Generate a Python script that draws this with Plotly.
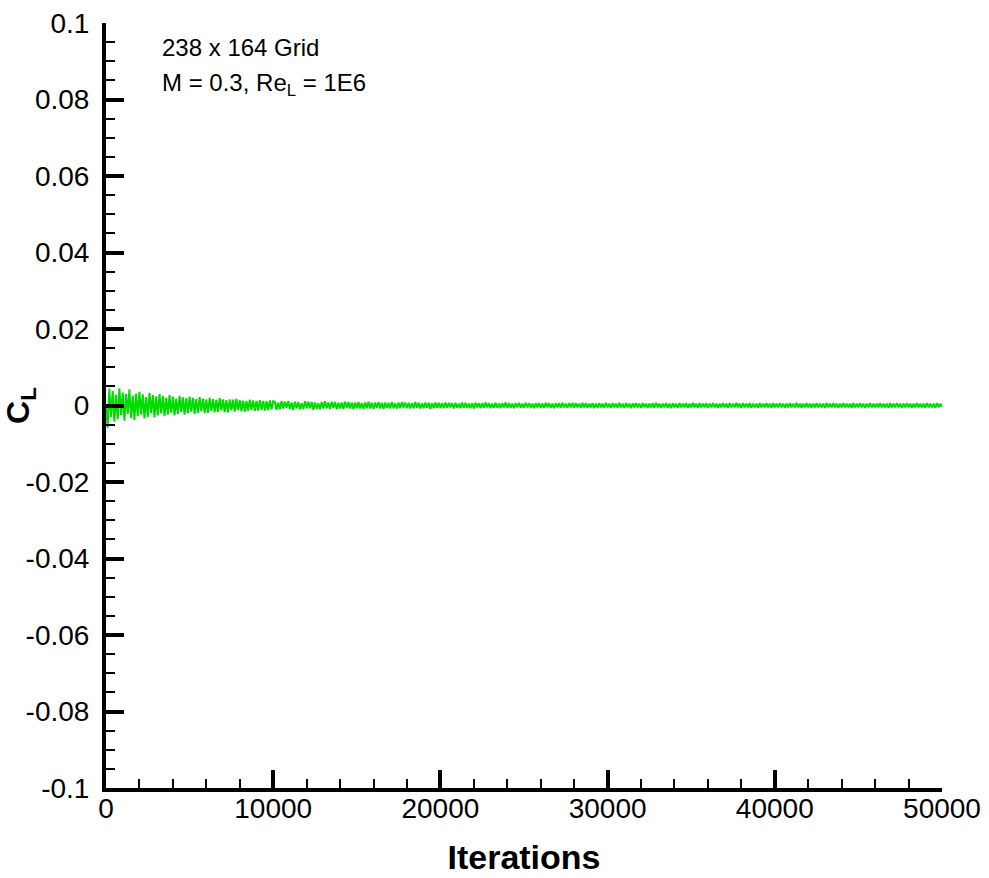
import plotly.graph_objects as go

# Lift coefficient convergence history, sampled every 100 iterations.
# Values are in units of 1e-4.
iterations = list(range(0, 50001, 100))
cl_e4 = [
    # 0 - 10000
    0, -58, 44, -30, 38, -42, 28, -36, 45, -25, 34, -40, 30, -22, 42, -33, 26, -38, 31, -28,
    36, -24, 29, -34, 22, -30, 33, -20, 27, -31, 24, -26, 30, -21, 25, -28, 20, -24, 27, -19,
    23, -26, 18, -22, 25, -17, 21, -24, 19, -20, 23, -16, 20, -22, 17, -19, 22, -15, 18, -20,
    16, -19, 20, -14, 17, -18, 15, -17, 19, -13, 16, -17, 14, -18, 16, -13, 15, -16, 17, -12,
    14, -15, 13, -16, 12, -14, 15, -11, 13, -14, 12, -13, 14, -11, 12, -13, 11, -12, 13, -10,
    11,
    # 10100 - 20000
    9, -11, 7, -10, 12, -8, 10, -6, 11, -9, 8, -12, 10, -7, 9, -10, 6, -9, 11, -8,
    10, -7, 9, -11, 8, -9, 6, -10, 9, -8, 11, -7, 8, -9, 10, -6, 9, -10, 7, -8,
    8, -9, 10, -6, 9, -8, 7, -10, 8, -7, 9, -8, 6, -9, 8, -7, 10, -8, 7, -9,
    8, -6, 9, -8, 7, -9, 8, -6, 7, -8, 9, -7, 6, -8, 8, -7, 9, -6, 8, -7,
    7, -8, 6, -7, 9, -6, 7, -8, 6, -7, 8, -6, 7, -9, 6, -7, 8, -6, 7, -7,
    # 20100 - 30000
    6, -7, 8, -6, 7, -5, 6, -8, 7, -6, 5, -7, 8, -6, 7, -6, 5, -7, 6, -8,
    7, -5, 6, -7, 6, -6, 8, -5, 6, -7, 5, -6, 7, -6, 5, -7, 6, -5, 8, -6,
    6, -6, 5, -7, 6, -5, 7, -6, 5, -6, 7, -5, 6, -6, 5, -7, 6, -5, 6, -6,
    5, -6, 7, -5, 6, -6, 5, -7, 6, -5, 6, -6, 7, -5, 5, -6, 6, -5, 7, -6,
    6, -5, 5, -6, 7, -5, 6, -6, 5, -5, 6, -7, 5, -6, 6, -5, 5, -6, 7, -5,
    # 30100 - 40000
    5, -6, 6, -5, 5, -6, 7, -5, 5, -6, 6, -5, 5, -7, 6, -5, 6, -5, 5, -6,
    6, -5, 5, -6, 5, -5, 6, -6, 7, -5, 5, -6, 5, -5, 6, -6, 5, -7, 6, -5,
    5, -6, 6, -5, 5, -5, 6, -6, 5, -5, 7, -5, 5, -6, 6, -5, 5, -5, 6, -6,
    5, -5, 6, -5, 5, -6, 5, -5, 6, -5, 5, -6, 6, -5, 5, -5, 7, -5, 5, -6,
    6, -5, 5, -5, 6, -6, 5, -5, 5, -6, 6, -5, 5, -5, 6, -5, 5, -6, 6, -5,
    # 40100 - 50000
    5, -5, 6, -5, 5, -6, 5, -5, 6, -5, 5, -5, 7, -5, 5, -6, 5, -5, 6, -5,
    5, -6, 5, -5, 6, -5, 5, -5, 5, -6, 6, -5, 5, -5, 6, -5, 5, -6, 5, -5,
    6, -5, 5, -5, 5, -6, 6, -5, 5, -5, 6, -5, 5, -6, 5, -5, 6, -5, 5, -5,
    5, -5, 6, -5, 5, -5, 5, -6, 6, -5, 5, -5, 6, -5, 5, -6, 5, -5, 6, -5,
    5, -6, 5, -5, 6, -5, 5, -5, 5, -6, 6, -5, 5, -5, 5, -6, 6, -5, 5, -4,
]
cl = [v * 1e-4 for v in cl_e4]

x_tick_vals = [0, 10000, 20000, 30000, 40000, 50000]
x_tick_text = ["0", "10000", "20000", "30000", "40000", "50000"]
y_tick_vals = [0.1, 0.08, 0.06, 0.04, 0.02, 0, -0.02, -0.04, -0.06, -0.08, -0.1]
y_tick_text = ["0.1", "0.08", "0.06", "0.04", "0.02", "0",
               "-0.02", "-0.04", "-0.06", "-0.08", "-0.1"]

FONT = "Liberation Sans, Arial, sans-serif"

fig = go.Figure()
fig.add_trace(go.Scatter(
    x=iterations, y=cl, mode="lines",
    line=dict(color="#00dc00", width=2),
    showlegend=False, hoverinfo="skip",
))

axis_common = dict(
    automargin=False,
    showline=True, linecolor="black", linewidth=4, mirror=False,
    showgrid=False, zeroline=False,
    ticks="inside", ticklen=18, tickwidth=4, tickcolor="black",
    tickfont=dict(family=FONT, size=28, color="black"),
)

fig.update_xaxes(
    range=[0, 50000], tickmode="array", tickvals=x_tick_vals, ticktext=x_tick_text,
    minor=dict(ticks="inside", ticklen=9, tickwidth=2, tickcolor="black", dtick=2000, tick0=0),
    ticklabelstandoff=-8,
    title=dict(text="<b>Iterations</b>", font=dict(family=FONT, size=34, color="black"), standoff=24),
    **axis_common,
)
fig.update_yaxes(
    range=[-0.1, 0.1], tickmode="array", tickvals=y_tick_vals, ticktext=y_tick_text,
    minor=dict(ticks="inside", ticklen=9, tickwidth=2, tickcolor="black", dtick=0.005, tick0=0),
    ticklabelstandoff=7,
    title=dict(text="<b>C<sub>L</sub></b>", font=dict(family=FONT, size=32, color="black"), standoff=12),
    **axis_common,
)

fig.add_annotation(
    x=0.0646, y=0.9686, xref="paper", yref="paper", xanchor="left", yanchor="middle",
    text="238 x 164 Grid", showarrow=False,
    font=dict(family=FONT, size=24, color="black"),
)
fig.add_annotation(
    x=0.0646, y=0.919, xref="paper", yref="paper", xanchor="left", yanchor="middle",
    text="M = 0.3, Re<sub>L</sub> = 1E6", showarrow=False,
    font=dict(family=FONT, size=24, color="black"),
)

fig.update_layout(
    width=989, height=878,
    margin=dict(l=106, r=47, t=23, b=90),
    paper_bgcolor="white", plot_bgcolor="white",
)

fig.write_html("out.html")
